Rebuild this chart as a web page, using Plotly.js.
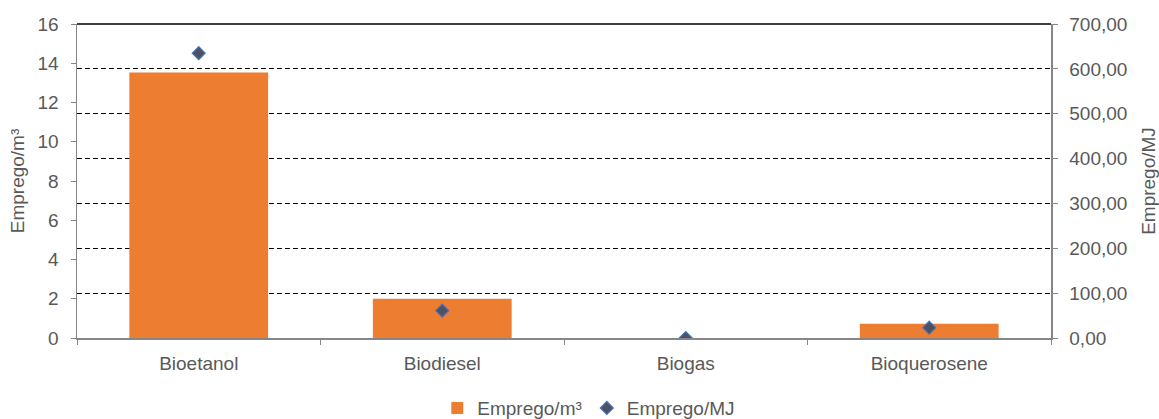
<!DOCTYPE html>
<html>
<head>
<meta charset="utf-8">
<script src="https://cdn.plot.ly/plotly-3.0.1.min.js"></script>
<style>
  html, body { margin: 0; padding: 0; background: #fff; }
  #chart { width: 1159px; height: 419px; }
</style>
</head>
<body>
<div id="chart"></div>
<script>
// Employment per unit of biofuel
const categories = ['Bioetanol', 'Biodiesel', 'Biogas', 'Bioquerosene'];
const empregoM3 = [13.53, 2.0, 0, 0.72];
const empregoMJ = [635, 61, 0, 23];
const leftTicks = [0, 2, 4, 6, 8, 10, 12, 14, 16];
const rightTicks = [0, 100, 200, 300, 400, 500, 600, 700];

const tickFont = { family: 'Liberation Sans, Arial, sans-serif', size: 19, color: '#595959' };
const axisGrey = '#868686';

const traces = [
  {
    type: 'bar',
    name: 'Emprego/m³',
    x: categories,
    y: empregoM3,
    marker: { color: '#ED7D31' },
    yaxis: 'y',
    hoverinfo: 'skip'
  },
  {
    type: 'scatter',
    mode: 'markers',
    name: 'Emprego/MJ',
    x: categories,
    y: empregoMJ,
    yaxis: 'y2',
    marker: { symbol: 'diamond', size: 10, color: '#4d5160', line: { color: '#4472C4', width: 1.2 } },
    hoverinfo: 'skip'
  }
];

const layout = {
  width: 1159,
  height: 419,
  margin: { l: 77, r: 108, t: 24, b: 81, autoexpand: false },
  paper_bgcolor: '#fff',
  plot_bgcolor: '#fff',
  separators: ',.',
  showlegend: true,
  bargap: 0.43,
  font: tickFont,
  legend: {
    orientation: 'h',
    x: 0.508, xanchor: 'center', xref: 'container',
    y: 0.026, yanchor: 'middle', yref: 'container',
    font: { family: 'Liberation Sans, Arial, sans-serif', size: 19, color: '#595959' },
    itemwidth: 30,
    traceorder: 'normal'
  },
  xaxis: {
    type: 'category',
    automargin: false,
    tickangle: 0,
    showline: true, linecolor: axisGrey, linewidth: 1.5,
    ticks: 'outside', tickson: 'boundaries', ticklen: 5, tickcolor: axisGrey,
    ticklabelstandoff: 8,
    showgrid: false, zeroline: false,
    tickfont: tickFont
  },
  yaxis: {
    range: [0, 16],
    automargin: false,
    tickvals: leftTicks,
    ticktext: leftTicks.map(String),
    showline: true, linecolor: axisGrey, linewidth: 1.5,
    ticks: 'outside', ticklen: 5, tickcolor: axisGrey,
    ticklabelstandoff: 8,
    showgrid: false, zeroline: false,
    tickfont: tickFont,
    title: { text: 'Emprego/m³', font: tickFont, standoff: 8 }
  },
  yaxis2: {
    overlaying: 'y',
    side: 'right',
    automargin: false,
    range: [0, 700],
    tickvals: rightTicks,
    tickformat: '.2f',
    showline: true, linecolor: axisGrey, linewidth: 1.5,
    ticks: 'outside', ticklen: 5, tickcolor: axisGrey,
    ticklabelstandoff: 8,
    showgrid: true, gridcolor: '#000', gridwidth: 1, griddash: '5px,3px',
    zeroline: false,
    tickfont: tickFont,
    title: { text: 'Emprego/MJ', font: tickFont, standoff: 17 }
  },
  shapes: [
    { type: 'line', xref: 'paper', yref: 'paper', x0: 0, x1: 1, y0: 1, y1: 1, line: { color: '#000', width: 1.5 } }
  ]
};

Plotly.newPlot('chart', traces, layout, { displayModeBar: false, staticPlot: true });
</script>
</body>
</html>
